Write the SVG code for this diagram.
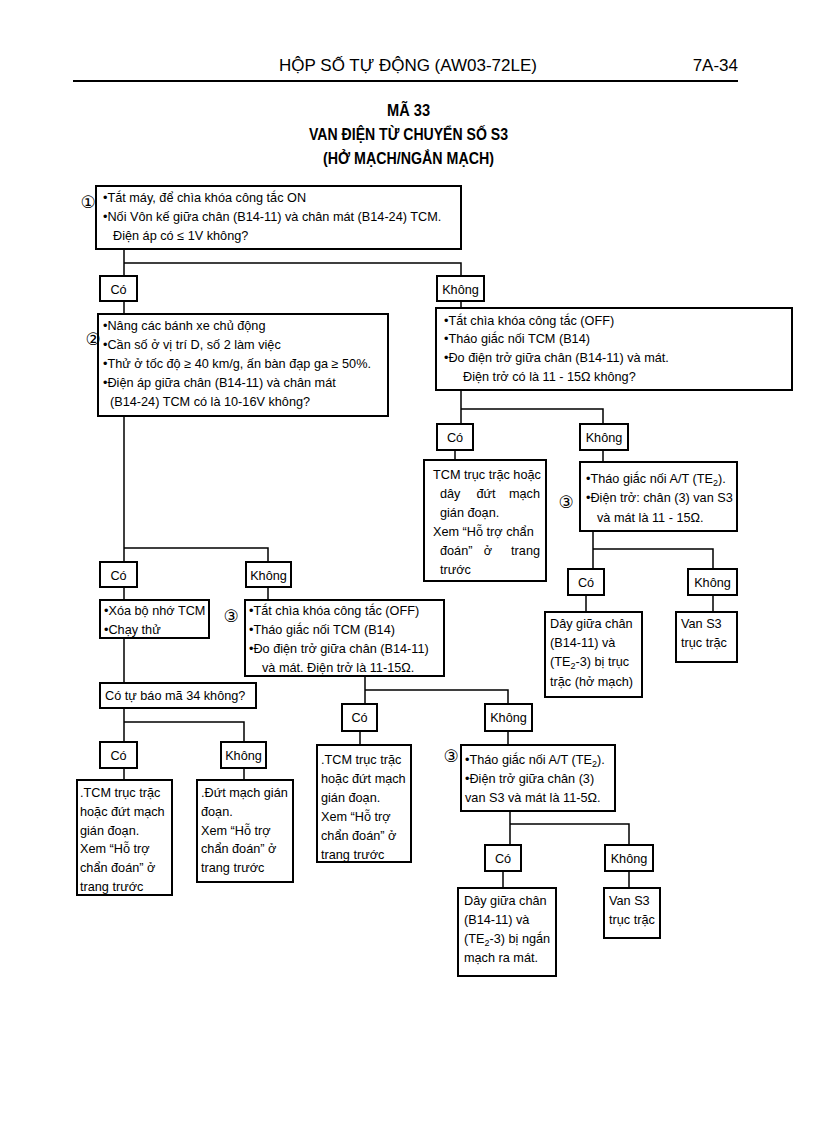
<svg xmlns="http://www.w3.org/2000/svg" width="816" height="1123" viewBox="0 0 816 1123">
<style>
text{font-family:"Liberation Sans Narrow","Liberation Sans",Arial,sans-serif;font-size:12.7px;fill:#000}
.hd{font-size:17px}
.tt{font-size:17px;font-weight:bold}
.box{fill:#fff;stroke:#000;stroke-width:2}
.ln{fill:none;stroke:#000;stroke-width:1.5}
.sub{font-size:9px}
.num{font-family:"DejaVu Sans",sans-serif;font-size:17px}
</style>
<rect width="816" height="1123" fill="#fff"/>
<g id="header">
<text class="hd" x="408" y="71" text-anchor="middle">HỘP SỐ TỰ ĐỘNG (AW03-72LE)</text>
<text class="hd" x="738" y="71" text-anchor="end">7A-34</text>
<line x1="73" y1="81" x2="738" y2="81" stroke="#000" stroke-width="2"/>
<text class="tt" x="387" y="116" textLength="43" lengthAdjust="spacingAndGlyphs">MÃ 33</text>
<text class="tt" x="309" y="140" textLength="199" lengthAdjust="spacingAndGlyphs">VAN ĐIỆN TỪ CHUYỂN SỐ S3</text>
<text class="tt" x="323" y="164" textLength="171" lengthAdjust="spacingAndGlyphs">(HỞ MẠCH/NGẮN MẠCH)</text>
</g>
<g id="connectors">
<path class="ln" d="M124 249V276M124 263H461V276"/>
<path class="ln" d="M124 301V314M461 301V308"/>
<path class="ln" d="M124 416V562M124 548H268V562"/>
<path class="ln" d="M461 390V424M461 409H603V424"/>
<path class="ln" d="M455 450V460M603 450V462"/>
<path class="ln" d="M593 531V569M593 549H713V569"/>
<path class="ln" d="M586 595V612M713 595V612"/>
<path class="ln" d="M124 587V683M268 587V600"/>
<path class="ln" d="M365 676V704M365 690H508V704"/>
<path class="ln" d="M124 708V742M124 722H244V742"/>
<path class="ln" d="M124 768V780M244 768V780"/>
<path class="ln" d="M360 731V745M508 731V745"/>
<path class="ln" d="M510 811V845M510 824H629V845"/>
<path class="ln" d="M503 871V888M629 871V888"/>
</g>
<g id="n1">
<rect class="box" x="96" y="186" width="365" height="63"/>
<text class="num" x="88" y="208" text-anchor="middle">①</text>
<text x="103" y="202">•Tắt máy, để chìa khóa công tắc ON</text>
<text x="103" y="221">•Nối Vôn kế giữa chân (B14-11) và chân mát (B14-24) TCM.</text>
<text x="113" y="240">Điện áp có ≤ 1V không?</text>
</g>
<g id="n1-co"><rect class="box" x="100" y="276" width="37" height="25"/><text x="118.5" y="294" text-anchor="middle">Có</text></g>
<g id="n1-khong"><rect class="box" x="437" y="276" width="47" height="25"/><text x="460.5" y="294" text-anchor="middle">Không</text></g>
<g id="n2">
<rect class="box" x="98" y="314" width="290" height="102"/>
<text class="num" x="93" y="345" text-anchor="middle">②</text>
<text x="103" y="330">•Nâng các bánh xe chủ động</text>
<text x="103" y="349">•Cần số ở vị trí D, số 2 làm việc</text>
<text x="103" y="368">•Thử ở tốc độ ≥ 40 km/g, ấn bàn đạp ga ≥ 50%.</text>
<text x="103" y="387">•Điện áp giữa chân (B14-11) và chân mát</text>
<text x="110" y="406">(B14-24) TCM có là 10-16V không?</text>
</g>
<g id="n3">
<rect class="box" x="436" y="308" width="356" height="82"/>
<text x="444" y="325">•Tắt chìa khóa công tắc (OFF)</text>
<text x="444" y="343">•Tháo giắc nối TCM (B14)</text>
<text x="444" y="362">•Đo điện trở giữa chân (B14-11) và mát.</text>
<text x="463" y="381">Điện trở có là 11 - 15Ω không?</text>
</g>
<g id="n3-co"><rect class="box" x="437" y="424" width="36" height="26"/><text x="455" y="442" text-anchor="middle">Có</text></g>
<g id="n3-khong"><rect class="box" x="580" y="424" width="48" height="26"/><text x="604" y="442" text-anchor="middle">Không</text></g>
<g id="n4">
<rect class="box" x="424" y="460" width="122" height="121"/>
<text x="433" y="479">TCM trục trặc hoặc</text>
<text x="440" y="498">dây</text><text x="486" y="498" text-anchor="middle">đứt</text><text x="540" y="498" text-anchor="end">mạch</text>
<text x="440" y="517">gián đoạn.</text>
<text x="433" y="536">Xem “Hỗ trợ chẩn</text>
<text x="440" y="555">đoán”</text><text x="488" y="555" text-anchor="middle">ở</text><text x="540" y="555" text-anchor="end">trang</text>
<text x="440" y="574">trước</text>
</g>
<g id="n5">
<rect class="box" x="580" y="462" width="157" height="69"/>
<text class="num" x="566" y="508" text-anchor="middle">③</text>
<text x="586" y="483">•Tháo giắc nối A/T (TE<tspan class="sub" dy="3">2</tspan><tspan dy="-3">).</tspan></text>
<text x="586" y="502">•Điện trở: chân (3) van S3</text>
<text x="597" y="522">và mát là 11 - 15Ω.</text>
</g>
<g id="n5-co"><rect class="box" x="568" y="569" width="36" height="26"/><text x="586" y="587" text-anchor="middle">Có</text></g>
<g id="n5-khong"><rect class="box" x="688" y="569" width="49" height="26"/><text x="712.5" y="587" text-anchor="middle">Không</text></g>
<g id="n6">
<rect class="box" x="545" y="612" width="97" height="85"/>
<text x="550" y="628">Dây giữa chân</text>
<text x="550" y="647">(B14-11) và</text>
<text x="550" y="666">(TE<tspan class="sub" dy="3">2</tspan><tspan dy="-3">-3) bị trục</tspan></text>
<text x="550" y="686">trặc (hở mạch)</text>
</g>
<g id="n7">
<rect class="box" x="676" y="612" width="61" height="50"/>
<text x="681" y="628">Van S3</text>
<text x="681" y="647">trục trặc</text>
</g>
<g id="n2-co"><rect class="box" x="100" y="562" width="37" height="25"/><text x="118.5" y="580" text-anchor="middle">Có</text></g>
<g id="n2-khong"><rect class="box" x="246" y="562" width="45" height="25"/><text x="268.5" y="580" text-anchor="middle">Không</text></g>
<g id="n8">
<rect class="box" x="100" y="600" width="109" height="38"/>
<text x="104" y="615">•Xóa bộ nhớ TCM</text>
<text x="104" y="634">•Chạy thử</text>
</g>
<g id="n9">
<rect class="box" x="245" y="600" width="199" height="76"/>
<text class="num" x="231" y="622" text-anchor="middle">③</text>
<text x="249" y="615">•Tắt chìa khóa công tắc (OFF)</text>
<text x="249" y="634">•Tháo giắc nối TCM (B14)</text>
<text x="249" y="653">•Đo điện trở giữa chân (B14-11)</text>
<text x="262" y="672">và mát. Điện trở là 11-15Ω.</text>
</g>
<g id="n10">
<rect class="box" x="100" y="683" width="156" height="25"/>
<text x="105" y="700">Có tự báo mã 34 không?</text>
</g>
<g id="n9-co"><rect class="box" x="342" y="704" width="35" height="27"/><text x="359.5" y="722" text-anchor="middle">Có</text></g>
<g id="n9-khong"><rect class="box" x="485" y="704" width="47" height="27"/><text x="508.5" y="722" text-anchor="middle">Không</text></g>
<g id="n10-co"><rect class="box" x="100" y="742" width="37" height="26"/><text x="118.5" y="760" text-anchor="middle">Có</text></g>
<g id="n10-khong"><rect class="box" x="221" y="742" width="45" height="26"/><text x="243.5" y="760" text-anchor="middle">Không</text></g>
<g id="n11">
<rect class="box" x="77" y="780" width="95" height="115"/>
<text x="80" y="797">.TCM trục trặc</text>
<text x="80" y="816">hoặc đứt mạch</text>
<text x="80" y="835">gián đoạn.</text>
<text x="80" y="853">Xem “Hỗ trợ</text>
<text x="80" y="872">chẩn đoán” ở</text>
<text x="80" y="891">trang trước</text>
</g>
<g id="n12">
<rect class="box" x="197" y="780" width="96" height="102"/>
<text x="201" y="797">.Đứt mạch gián</text>
<text x="201" y="816">đoạn.</text>
<text x="201" y="835">Xem “Hỗ trợ</text>
<text x="201" y="853">chẩn đoán” ở</text>
<text x="201" y="872">trang trước</text>
</g>
<g id="n13">
<rect class="box" x="317" y="745" width="94" height="117"/>
<text x="321" y="764">.TCM trục trặc</text>
<text x="321" y="783">hoặc đứt mạch</text>
<text x="321" y="802">gián đoạn.</text>
<text x="321" y="821">Xem “Hỗ trợ</text>
<text x="321" y="840">chẩn đoán” ở</text>
<text x="321" y="859">trang trước</text>
</g>
<g id="n14">
<rect class="box" x="461" y="745" width="154" height="66"/>
<text class="num" x="451" y="762" text-anchor="middle">③</text>
<text x="465" y="764">•Tháo giắc nối A/T (TE<tspan class="sub" dy="3">2</tspan><tspan dy="-3">).</tspan></text>
<text x="465" y="783">•Điện trở giữa chân (3)</text>
<text x="465" y="802">van S3 và mát là 11-5Ω.</text>
</g>
<g id="n14-co"><rect class="box" x="485" y="845" width="36" height="26"/><text x="503" y="863" text-anchor="middle">Có</text></g>
<g id="n14-khong"><rect class="box" x="605" y="845" width="48" height="26"/><text x="629" y="863" text-anchor="middle">Không</text></g>
<g id="n15">
<rect class="box" x="458" y="888" width="98" height="88"/>
<text x="464" y="905">Dây giữa chân</text>
<text x="464" y="924">(B14-11) và</text>
<text x="464" y="943">(TE<tspan class="sub" dy="3">2</tspan><tspan dy="-3">-3) bị ngắn</tspan></text>
<text x="464" y="962">mạch ra mát.</text>
</g>
<g id="n16">
<rect class="box" x="604" y="888" width="56" height="50"/>
<text x="609" y="905">Van S3</text>
<text x="609" y="924">trục trặc</text>
</g>
</svg>
